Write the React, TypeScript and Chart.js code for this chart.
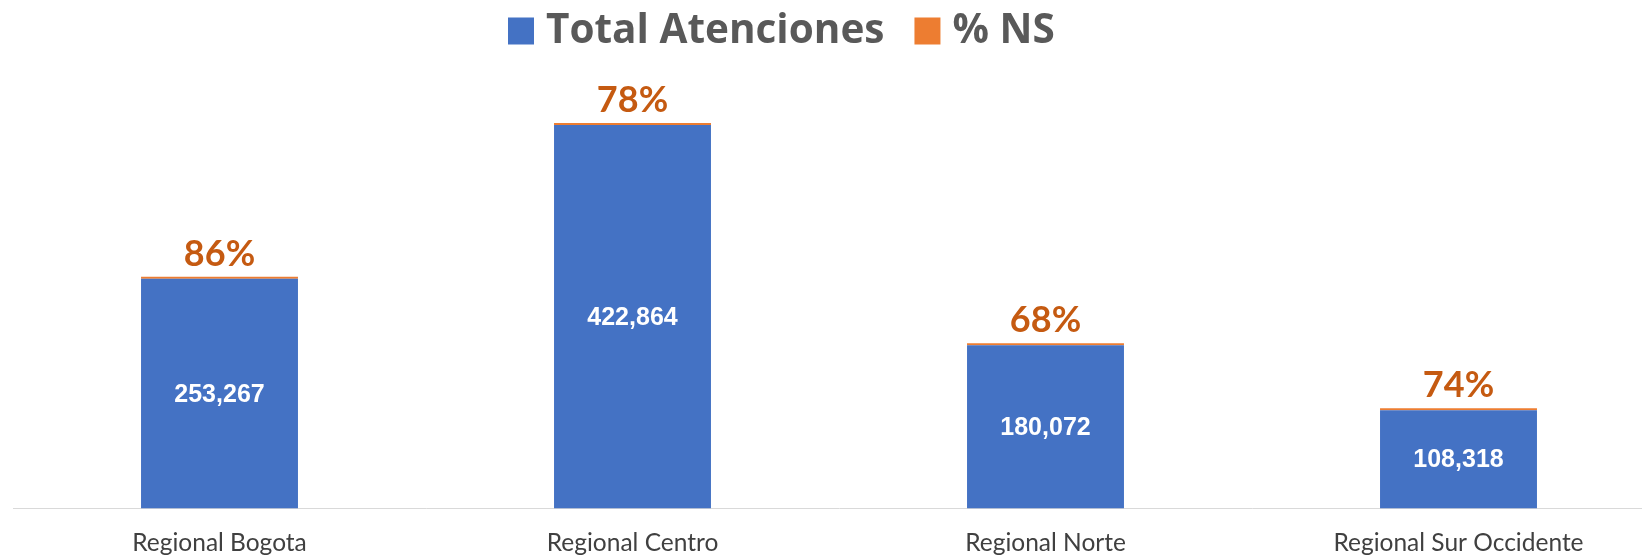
import React, { useEffect, useRef } from "react";
import { Chart, registerables } from "chart.js";

Chart.register(...registerables);

const categories = ["Regional Bogota", "Regional Centro", "Regional Norte", "Regional Sur Occidente"];
const totalAtenciones = [253267, 422864, 180072, 108318];
const pctNS = [0.86, 0.78, 0.68, 0.74];

const BLUE = "#4472C4";
const ORANGE = "#ED7D31";
const ORANGE_TEXT = "#C55A11";

const LEGEND_FONT = 40.5;
const LEGEND_BOX = 9.5;
const LEGEND_STROKE = 16.5;
const LEGEND_PAD = 38.25;
const LEGEND_VISIBLE_LEFT = 508;

const labelPlugin = {
  id: "barLabels",
  afterLayout(chart: any) {
    const lg = chart.legend;
    if (lg && lg.lineWidths) {
      const lw = lg.lineWidths[0];
      const cur = (lg.left + LEGEND_PAD + lg.right - lw) / 2;
      const want = LEGEND_VISIBLE_LEFT + LEGEND_STROKE / 2;
      const shift = want - cur;
      lg.left += shift;
      lg.right += shift;
      lg.top = -27.5;
    }
  },
  afterDatasetsDraw(chart: any) {
    const ctx = chart.ctx;
    ctx.save();
    const m0 = chart.getDatasetMeta(0);
    ctx.fillStyle = "#FFFFFF";
    ctx.font = "bold 25px 'Liberation Sans', Arial, sans-serif";
    ctx.textAlign = "center";
    ctx.textBaseline = "middle";
    m0.data.forEach((el: any, i: number) => {
      const y = (el.y + el.base) / 2;
      ctx.fillText(totalAtenciones[i].toLocaleString("en-US"), el.x, y + 1);
    });
    const m1 = chart.getDatasetMeta(1);
    ctx.fillStyle = ORANGE_TEXT;
    ctx.font = "bold 36px Lato, 'Open Sans', sans-serif";
    ctx.textBaseline = "alphabetic";
    m1.data.forEach((el: any, i: number) => {
      ctx.fillText(Math.round(pctNS[i] * 100) + "%", el.x, el.y - 11);
    });
    ctx.restore();
  },
};

export default function App() {
  const ref = useRef<HTMLCanvasElement>(null);
  useEffect(() => {
    if (!ref.current) return;
    const chart = new Chart(ref.current, {
      type: "bar",
      data: {
        labels: categories,
        datasets: [
          {
            label: "Total Atenciones",
            data: totalAtenciones,
            backgroundColor: BLUE,
            categoryPercentage: 1,
            barPercentage: 0.38,
          },
          {
            label: "% NS",
            data: pctNS,
            backgroundColor: ORANGE,
            categoryPercentage: 1,
            barPercentage: 0.38,
            minBarLength: 2,
          },
        ],
      },
      options: {
        responsive: true,
        maintainAspectRatio: false,
        animation: false,
        layout: { padding: { left: 13, right: 1, top: 7, bottom: -21 } },
        plugins: {
          tooltip: { enabled: false },
          legend: {
            position: "top",
            maxHeight: 48,
            labels: {
              boxWidth: LEGEND_BOX,
              boxHeight: LEGEND_BOX + 1,
              padding: LEGEND_PAD,
              color: "#595959",
              font: { family: "'Open Sans', Lato, sans-serif", size: LEGEND_FONT, weight: "bold" },
              generateLabels(chart: any) {
                const items = Chart.defaults.plugins.legend.labels.generateLabels(chart);
                items.forEach((it: any) => {
                  it.lineWidth = LEGEND_STROKE;
                  it.strokeStyle = it.fillStyle;
                  it.lineJoin = "miter";
                });
                return items;
              },
            },
          },
        },
        scales: {
          x: {
            stacked: true,
            offset: true,
            grid: { display: false, drawTicks: false },
            border: { display: true, color: "#D9D9D9", width: 1 },
            ticks: {
              color: "#404040",
              padding: 20,
              font: { family: "Lato, 'Open Sans', sans-serif", size: 24.5 },
            },
          },
          y: {
            stacked: true,
            display: false,
            min: 0,
            max: 500000,
          },
        },
      },
      plugins: [labelPlugin],
    });
    return () => chart.destroy();
  }, []);
  return (
    <div style={{ position: "fixed", left: 0, top: 0, width: 1642, height: 557, overflow: "hidden", background: "#fff" }}>
      <div style={{ position: "relative", width: 1666, height: 557 }}>
        <canvas ref={ref} />
      </div>
    </div>
  );
}
